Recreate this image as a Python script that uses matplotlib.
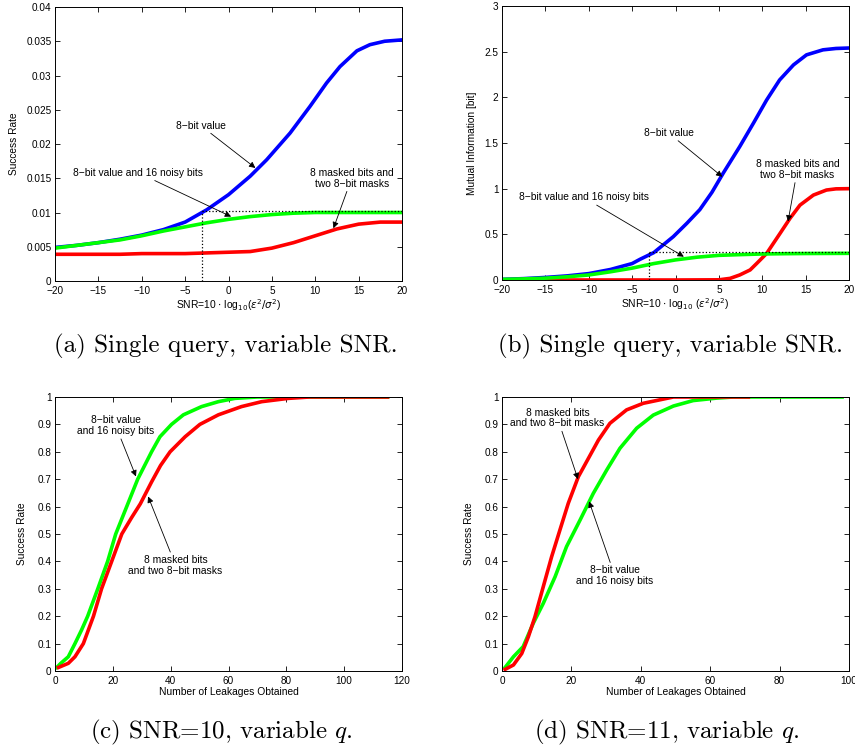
import matplotlib
matplotlib.use("Agg")
import matplotlib.pyplot as plt

plt.rcParams['font.family'] = ['Liberation Sans', 'DejaVu Sans']

# ---------------- data ----------------
snr = [-20, -17.5, -15, -12.5, -10, -7.5, -5, -2.5, 0, 2.5, 5, 7.5, 10, 12.5, 15, 17.5, 20]

a_blue_x = [-20, -17.5, -15, -12.5, -10, -7.5, -5, -2.5, 0, 2.5, 4.4, 7.1, 9.4, 11.3, 12.85,
            14.8, 16.3, 18, 20]
a_blue = [0.0049, 0.0052, 0.0056, 0.0061, 0.0067, 0.0075, 0.0086, 0.0104, 0.0126, 0.0153,
          0.0177, 0.0216, 0.0255, 0.0289, 0.0313, 0.0336, 0.0345, 0.0350, 0.0352]
a_green = [0.0048, 0.0052, 0.0056, 0.0060, 0.0066, 0.0073, 0.0079, 0.0085, 0.0090, 0.0094,
           0.0097, 0.0099, 0.0100, 0.0100, 0.0100, 0.0100, 0.0100]
a_red = [0.0039, 0.0039, 0.0039, 0.0039, 0.0040, 0.0040, 0.0040, 0.0041, 0.0042, 0.0043,
         0.0048, 0.0056, 0.0066, 0.0076, 0.0083, 0.0086, 0.0086]

b_blue_x = [-20, -17.5, -15, -12.5, -10, -7.5, -5, -4.1, -2.5, -0.25, 1.3, 2.8, 4.2, 5.5, 7.4,
            9, 10.5, 12, 13.6, 15.1, 17, 18.5, 20]
b_blue = [0.007, 0.015, 0.028, 0.045, 0.07, 0.115, 0.18, 0.226, 0.30, 0.475, 0.62, 0.77, 0.96,
          1.17, 1.46, 1.72, 1.97, 2.19, 2.355, 2.465, 2.52, 2.535, 2.54]
b_green = [0.007, 0.012, 0.02, 0.035, 0.055, 0.09, 0.13, 0.18, 0.22, 0.25, 0.27, 0.278, 0.285,
           0.288, 0.29, 0.291, 0.292]
b_red_x = [-20, 0, 5, 6.3, 7.4, 8.6, 9.35, 10.5, 12.05, 13.2, 14.35, 15.9, 17.4, 18.5, 20]
b_red = [0, 0, 0.002, 0.018, 0.055, 0.11, 0.18, 0.29, 0.51, 0.675, 0.82, 0.93, 0.985, 0.998, 1.0]

c_green_x = [0.6, 2, 4.6, 6.9, 9.2, 11.3, 14.8, 18.2, 21, 24.8, 28.6, 33.4, 36.3, 40.3, 44.4,
             50.7, 56.5, 62.2, 70, 90, 115]
c_green = [0.013, 0.028, 0.052, 0.1, 0.15, 0.2, 0.3, 0.4, 0.5, 0.6, 0.7, 0.8, 0.855, 0.9, 0.935,
           0.965, 0.983, 0.995, 1.0, 1.0, 1.0]
c_red_x = [1.2, 4.6, 6.9, 9.8, 13.3, 16.1, 19.6, 23.1, 26.5, 29.5, 33.4, 36.5, 39.8, 45, 50.1,
           56.5, 64.5, 71.5, 80.7, 88, 115]
c_red = [0.013, 0.028, 0.052, 0.1, 0.2, 0.3, 0.4, 0.5, 0.56, 0.61, 0.69, 0.75, 0.8, 0.855, 0.9,
         0.935, 0.965, 0.983, 0.995, 1.0, 1.0]

d_red_x = [0.9, 3.3, 5.7, 7.6, 9.5, 11.9, 14.3, 16.7, 19.1, 22, 24.9, 27.8, 31.1, 35.9, 40.7,
           47.5, 49.4, 71]
d_red = [0.006, 0.022, 0.064, 0.125, 0.198, 0.308, 0.417, 0.515, 0.612, 0.709, 0.776, 0.843,
         0.904, 0.953, 0.977, 0.995, 1.0, 1.0]
d_green_x = [0.9, 3.3, 6.1, 9, 11.9, 15.3, 18.6, 22.5, 26.3, 30.2, 34, 38.8, 43.6, 49.4, 55.1,
             61.9, 66.7, 98]
d_green = [0.013, 0.052, 0.089, 0.174, 0.247, 0.344, 0.454, 0.551, 0.648, 0.734, 0.813, 0.886,
           0.934, 0.967, 0.987, 0.996, 1.0, 1.0]

a_yticks = [0, 0.005, 0.01, 0.015, 0.02, 0.025, 0.03, 0.035, 0.04]
a_yticklabels = ['0', '0.005', '0.01', '0.015', '0.02', '0.025', '0.03', '0.035', '0.04']
b_yticks = [0, 0.5, 1, 1.5, 2, 2.5, 3]
b_yticklabels = ['0', '0.5', '1', '1.5', '2', '2.5', '3']
snr_ticks = [-20, -15, -10, -5, 0, 5, 10, 15, 20]
q_yticks = [0, 0.1, 0.2, 0.3, 0.4, 0.5, 0.6, 0.7, 0.8, 0.9, 1]
q_yticklabels = ['0', '0.1', '0.2', '0.3', '0.4', '0.5', '0.6', '0.7', '0.8', '0.9', '1']
c_xticks = [0, 20, 40, 60, 80, 100, 120]
d_xticks = [0, 20, 40, 60, 80, 100]

captions = ['(a) Single query, variable SNR.', '(b) Single query, variable SNR.',
            '(c) SNR=10, variable $q$.', '(d) SNR=11, variable $q$.']

# ---------------- figure ----------------
fig = plt.figure(figsize=(8.55, 7.49), dpi=100)
W, H = 855, 749

def make_ax(l, r, t, b):
    return fig.add_axes([l / W, 1 - b / H, (r - l) / W, (b - t) / H])

axa = make_ax(55, 402, 7, 281)
axb = make_ax(502, 849, 6, 280)
axc = make_ax(55, 402, 397, 671)
axd = make_ax(502, 849, 397, 671)

TFS = 7.2
LW = 2.6
BLUE, GREEN, RED = (0, 0, 1), (0, 1, 0), (1, 0, 0)

def style(ax):
    ax.tick_params(direction='in', top=True, right=True, length=3.5, width=0.6,
                   labelsize=TFS, pad=2.5)
    ax.tick_params(axis='x', pad=3.6)
    for s in ax.spines.values():
        s.set_linewidth(0.7)

arrow = dict(arrowstyle='-|>', color='k', lw=0.6, mutation_scale=9, shrinkA=0, shrinkB=0)
AFS = 7.4
LFS = 7.3

# (a)
axa.plot(a_blue_x, a_blue, color=BLUE, lw=LW)
axa.plot(snr, a_green, color=GREEN, lw=LW)
axa.plot(snr, a_red, color=RED, lw=LW)
axa.plot([-3, 20], [0.01025, 0.01025], color='k', ls=':', lw=0.9)
axa.plot([-3, -3], [0, 0.01025], color='k', ls=':', lw=0.9)
axa.set_xlim(-20, 20)
axa.set_ylim(0, 0.04)
axa.set_xticks(snr_ticks)
axa.set_yticks(a_yticks)
axa.set_yticklabels(a_yticklabels)
axa.set_ylabel('Success Rate', fontsize=LFS)
axa.yaxis.set_label_coords(-0.105, 0.5)
axa.set_xlabel(r'SNR=10 $\cdot$ log$_{10}$($\varepsilon^2/\sigma^2$)', fontsize=7.4)
axa.xaxis.set_label_coords(0.5, -0.058)
axa.annotate('8−bit value', xy=(3.1, 0.0165), xytext=(-3.2, 0.0227), fontsize=AFS,
             ha='center', va='center', arrowprops=arrow)
axa.annotate('8−bit value and 16 noisy bits', xy=(0.3, 0.0094), xytext=(-10.4, 0.0158),
             fontsize=AFS, ha='center', va='center', arrowprops=arrow)
axa.annotate('8 masked bits and\ntwo 8−bit masks', xy=(12.1, 0.0077), xytext=(14.2, 0.0150),
             fontsize=AFS, ha='center', va='center', linespacing=1.1, arrowprops=arrow)
style(axa)

# (b)
axb.plot(b_blue_x, b_blue, color=BLUE, lw=LW)
axb.plot(b_red_x, b_red, color=RED, lw=LW)
axb.plot(snr, b_green, color=GREEN, lw=LW)
axb.plot([-3, 20], [0.31, 0.31], color='k', ls=':', lw=0.9)
axb.plot([-3, -3], [0, 0.31], color='k', ls=':', lw=0.9)
axb.set_xlim(-20, 20)
axb.set_ylim(0, 3)
axb.set_xticks(snr_ticks)
axb.set_yticks(b_yticks)
axb.set_yticklabels(b_yticklabels)
axb.set_ylabel('Mutual Information [bit]', fontsize=LFS)
axb.yaxis.set_label_coords(-0.073, 0.5)
axb.set_xlabel(r'SNR=10 $\cdot$ log$_{10}$ ($\varepsilon^2/\sigma^2$)', fontsize=7.4)
axb.xaxis.set_label_coords(0.5, -0.058)
axb.annotate('8−bit value', xy=(5.4, 1.13), xytext=(-0.8, 1.61), fontsize=AFS,
             ha='center', va='center', arrowprops=arrow)
axb.annotate('8−bit value and 16 noisy bits', xy=(0.96, 0.255), xytext=(-10.6, 0.905),
             fontsize=AFS, ha='center', va='center', arrowprops=arrow)
axb.annotate('8 masked bits and\ntwo 8−bit masks', xy=(12.97, 0.64), xytext=(14.05, 1.21),
             fontsize=AFS, ha='center', va='center', linespacing=1.1, arrowprops=arrow)
style(axb)

# (c)
axc.plot(c_green_x, c_green, color=GREEN, lw=LW)
axc.plot(c_red_x, c_red, color=RED, lw=LW)
axc.set_xlim(0, 120)
axc.set_ylim(0, 1)
axc.set_xticks(c_xticks)
axc.set_yticks(q_yticks)
axc.set_yticklabels(q_yticklabels)
axc.set_ylabel('Success Rate', fontsize=LFS)
axc.yaxis.set_label_coords(-0.082, 0.5)
axc.set_xlabel('Number of Leakages Obtained', fontsize=7.4)
axc.xaxis.set_label_coords(0.5, -0.058)
axc.annotate('8−bit value\nand 16 noisy bits', xy=(28, 0.71), xytext=(21, 0.895),
             fontsize=AFS, ha='center', va='center', linespacing=1.1, arrowprops=arrow)
axc.annotate('8 masked bits\nand two 8−bit masks', xy=(32.2, 0.637), xytext=(41.7, 0.386),
             fontsize=AFS, ha='center', va='center', linespacing=1.1, arrowprops=arrow)
style(axc)

# (d)
axd.plot(d_green_x, d_green, color=GREEN, lw=LW)
axd.plot(d_red_x, d_red, color=RED, lw=LW)
axd.set_xlim(0, 100)
axd.set_ylim(0, 1)
axd.set_xticks(d_xticks)
axd.set_yticks(q_yticks)
axd.set_yticklabels(q_yticklabels)
axd.set_ylabel('Success Rate', fontsize=LFS)
axd.yaxis.set_label_coords(-0.082, 0.5)
axd.set_xlabel('Number of Leakages Obtained', fontsize=7.4)
axd.xaxis.set_label_coords(0.5, -0.058)
axd.annotate('8 masked bits\nand two 8−bit masks', xy=(21.9, 0.70), xytext=(16, 0.923),
             fontsize=AFS, ha='center', va='center', linespacing=1.1, arrowprops=arrow)
axd.annotate('8−bit value\nand 16 noisy bits', xy=(25.1, 0.619), xytext=(32.5, 0.348),
             fontsize=AFS, ha='center', va='center', linespacing=1.1, arrowprops=arrow)
style(axd)

# captions
CFS = 18
cap_pos = [(226, 346), (670, 346), (221, 732), (667, 732)]
for (cx, cy), txt in zip(cap_pos, captions):
    fig.text(cx / W, 1 - cy / H, txt, ha='center', va='center', fontsize=CFS,
             family='cmr10', math_fontfamily='cm')

fig.savefig('out.png', dpi=100)
